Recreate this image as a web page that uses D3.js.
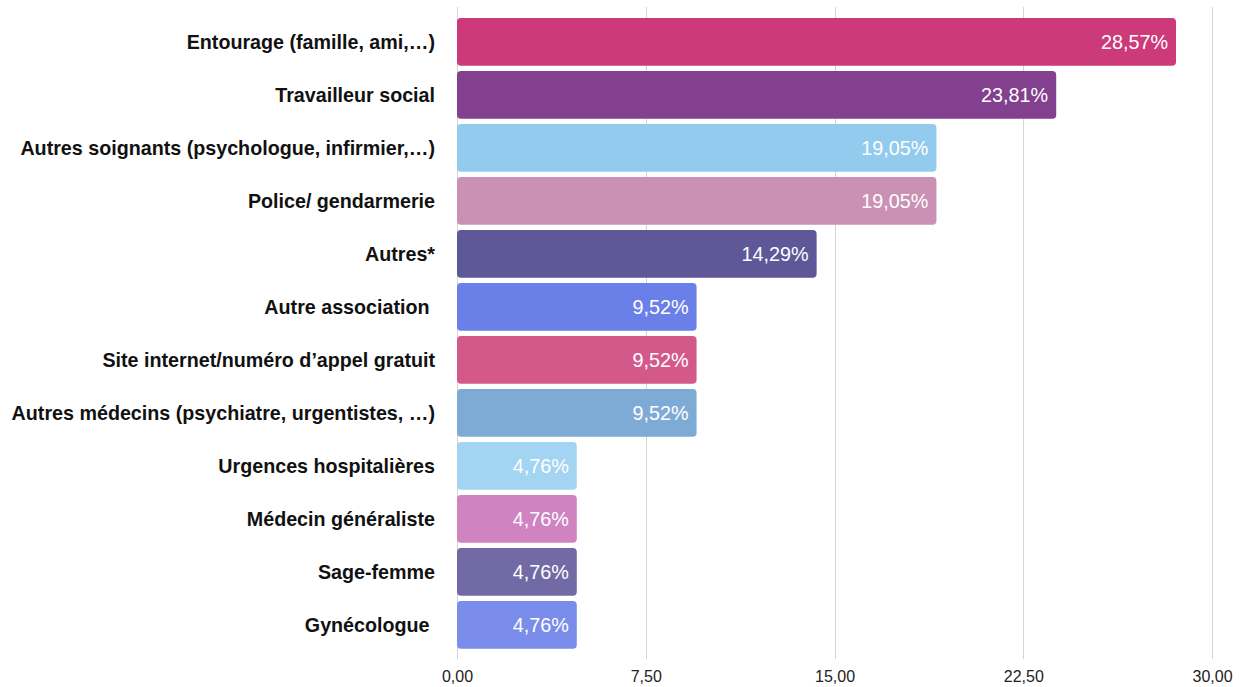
<!doctype html>
<html>
<head>
<meta charset="utf-8">
<script src="https://cdn.jsdelivr.net/npm/d3@7"></script>
<style>
  body { margin: 0; background: #fff; }
  svg { display: block; font-family: "Liberation Sans", Arial, sans-serif; }
  text.cat { white-space: pre; }
</style>
</head>
<body>
<script>
// data
const categories = [
  "Entourage (famille, ami,…)",
  "Travailleur social",
  "Autres soignants (psychologue, infirmier,…)",
  "Police/ gendarmerie",
  "Autres*",
  "Autre association ",
  "Site internet/numéro d’appel gratuit",
  "Autres médecins (psychiatre, urgentistes, …)",
  "Urgences hospitalières",
  "Médecin généraliste",
  "Sage-femme",
  "Gynécologue "
]
const values = [28.57, 23.81, 19.05, 19.05, 14.29, 9.52, 9.52, 9.52, 4.76, 4.76, 4.76, 4.76]
const colors = ["#cc3a7a", "#82408e", "#93cbee", "#ca91b4", "#5f5898", "#6a80e8",
                "#d4598b", "#7eabd6", "#a3d5f3", "#d083c1", "#726aa5", "#7a8deb"]
const ticks = [0, 7.5, 15, 22.5, 30]

const w = 1247
const h = 687
const frFmt = d3.formatLocale({ decimal: ",", thousands: " ", grouping: [3], currency: ["", " €"] })
const tickFmt = frFmt.format(".2f")

const svg = d3.select('body').append('svg')
  .attr('width', w)
  .attr('height', h)

const x = d3.scaleLinear().domain([0, 30]).range([457, 1212])
const y = d3.scaleBand().domain(categories).range([15.35, 651.35])
  .paddingInner(0.1).paddingOuter(0.05)

// grid lines
svg.selectAll('line.grid')
  .data(ticks)
  .enter()
  .append('line')
  .attr('class', 'grid')
  .attr('x1', d => Math.round(x(d)) + 0.5)
  .attr('x2', d => Math.round(x(d)) + 0.5)
  .attr('y1', 7)
  .attr('y2', 659)
  .attr('stroke', '#d4d4d4')
  .attr('stroke-width', 1)

// x axis labels
const xAxis = d3.axisBottom(x).tickValues(ticks).tickFormat(tickFmt).tickSize(0).tickPadding(0)
const ax = svg.append('g').attr('transform', 'translate(0,671)').call(xAxis)
ax.select('.domain').remove()
ax.selectAll('text')
  .attr('font-size', '16px')
  .attr('fill', '#222')
  .attr('font-family', '"Liberation Sans", Arial, sans-serif')

// bars
svg.selectAll('rect.bar')
  .data(values)
  .enter()
  .append('rect')
  .attr('class', 'bar')
  .attr('x', x(0))
  .attr('y', (d, i) => y(categories[i]))
  .attr('width', d => x(d) - x(0))
  .attr('height', y.bandwidth())
  .attr('rx', 4)
  .attr('fill', (d, i) => colors[i])

// value labels inside bars
svg.selectAll('text.val')
  .data(values)
  .enter()
  .append('text')
  .attr('class', 'val')
  .attr('x', d => x(d) - 8)
  .attr('y', (d, i) => y(categories[i]) + y.bandwidth() / 2)
  .attr('dy', '0.36em')
  .attr('text-anchor', 'end')
  .attr('fill', '#fff')
  .attr('font-size', '19.8px')
  .text(d => frFmt.format(".2f")(d) + '%')

// category labels
svg.selectAll('text.cat')
  .data(categories)
  .enter()
  .append('text')
  .attr('class', 'cat')
  .attr('x', 435)
  .attr('y', d => y(d) + y.bandwidth() / 2)
  .attr('dy', '0.36em')
  .attr('text-anchor', 'end')
  .attr('fill', '#111')
  .attr('font-size', '19.7px')
  .attr('font-weight', 'bold')
  .text(d => d)
</script>
</body>
</html>
